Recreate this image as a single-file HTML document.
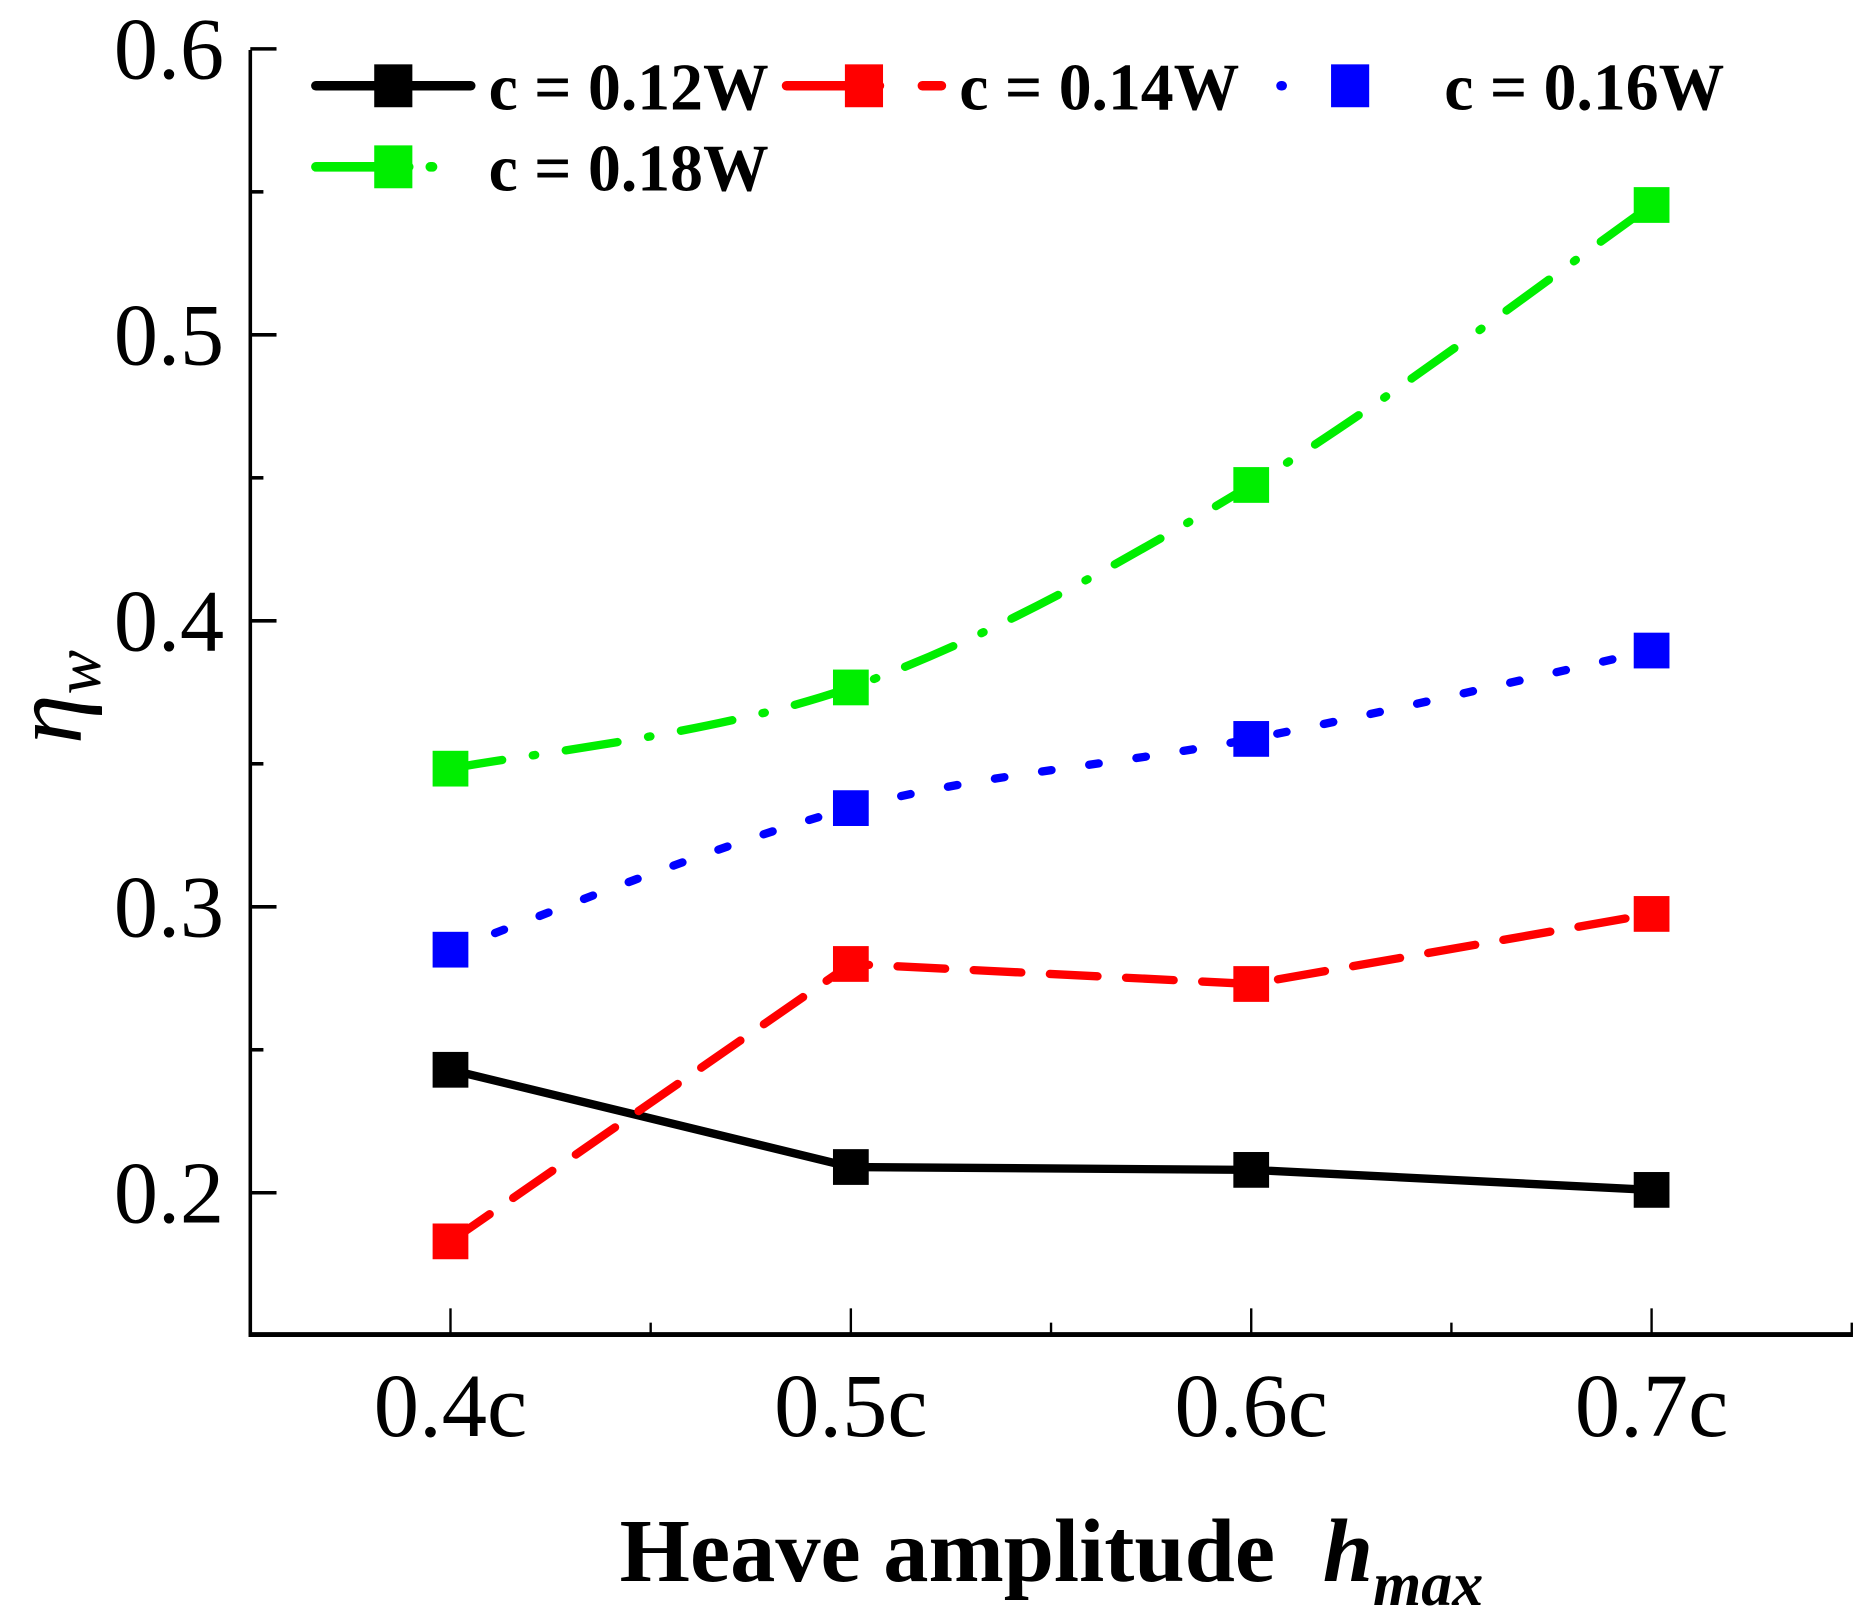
<!DOCTYPE html>
<html><head><meta charset="utf-8"><style>
html,body{margin:0;padding:0;background:#fff;}
svg{display:block;}
text{font-family:"Liberation Serif",serif;}
</style></head><body>
<svg id="chart" width="1859" height="1611" viewBox="0 0 1560 1352" xmlns="http://www.w3.org/2000/svg">
<g id="axes"></g>
<g id="series"></g>
<g id="legend"></g>
<text x="520" y="1327" font-size="76" font-weight="bold" textLength="550" lengthAdjust="spacingAndGlyphs">Heave amplitude</text>
<text x="1110" y="1327" font-size="76" font-weight="bold" font-style="italic">h<tspan font-size="52" dy="20">max</tspan></text>
<text transform="translate(68,585) rotate(-90)" font-size="84" font-style="italic" text-anchor="middle">η<tspan font-size="56" dy="16">w</tspan></text>
</svg>
<script>
const categories = ["0.4c","0.5c","0.6c","0.7c"];
const xValues = [0.4,0.5,0.6,0.7];
const yTicks = [0.2,0.3,0.4,0.5,0.6];
const yTickLabels = ["0.2","0.3","0.4","0.5","0.6"];
const s012 = [0.243,0.209,0.208,0.201];
const s014 = [0.183,0.280,0.273,0.2975];
const s016 = [0.285,0.3345,0.3587,0.3896];
const s018 = [0.3483,0.3767,0.4475,0.5454];
const seriesNames = ["c = 0.12W","c = 0.14W","c = 0.16W","c = 0.18W"];

const NS="http://www.w3.org/2000/svg";
const L=210,R=1555,T=42,B=1120;
function xs(v){return 378+(v-0.4)*3360;}
function ys(v){return 1001-(v-0.2)*2400;}
function mk(tag,attrs,parent){const e=document.createElementNS(NS,tag);for(const k in attrs)e.setAttribute(k,attrs[k]);parent.appendChild(e);return e;}
const axes=document.getElementById('axes');
let e;
e=mk('line',{x1:L,y1:T,x2:L,y2:B,stroke:'#000','stroke-width':3},axes);


e=mk('line',{x1:L-1.5,y1:B,x2:R,y2:B,stroke:'#000','stroke-width':4},axes);


yTicks.forEach((v,i)=>{
  const t=mk('line',{x1:L,y1:ys(v),x2:L+22,y2:ys(v),stroke:'#000','stroke-width':3},axes);
  
  
  const tx=mk('text',{x:188,y:ys(v)+25,'font-size':74,'text-anchor':'end'},axes);
  tx.textContent=yTickLabels[i];
  
  
});
for(let v=0.25;v<0.6;v+=0.1){
  const t=mk('line',{x1:L,y1:ys(v),x2:L+11,y2:ys(v),stroke:'#000','stroke-width':3},axes);
  
  
}
xValues.forEach((v,i)=>{
  const t=mk('line',{x1:xs(v),y1:B,x2:xs(v),y2:B-22,stroke:'#000','stroke-width':2},axes);
  
  
  const tx=mk('text',{x:xs(v),y:1205,'font-size':76,'text-anchor':'middle'},axes);
  tx.textContent=categories[i];
  
  
});
[0.45,0.55,0.65,0.75].forEach(v=>{
  const t=mk('line',{x1:xs(v),y1:B,x2:xs(v),y2:B-10,stroke:'#000','stroke-width':2},axes);
  
  
});

function smoothPath(pts){
  let d='M'+pts[0][0]+','+pts[0][1];
  for(let i=0;i<pts.length-1;i++){
    const p0=pts[Math.max(0,i-1)],p1=pts[i],p2=pts[i+1],p3=pts[Math.min(pts.length-1,i+2)];
    const c1=[p1[0]+(p2[0]-p0[0])/6,p1[1]+(p2[1]-p0[1])/6];
    const c2=[p2[0]-(p3[0]-p1[0])/6,p2[1]-(p3[1]-p1[1])/6];
    d+=' C'+c1+' '+c2+' '+p2;
  }
  return d;
}
const cfg=[
 {data:s012,color:'#000',dash:'',cap:'butt',smooth:false,name:'series-c012'},
 {data:s014,color:'#ff0000',dash:'40 24',cap:'round',smooth:false,name:'series-c014'},
 {data:s016,color:'#0000ff',dash:'8 32',cap:'round',smooth:true,name:'series-c016'},
 {data:s018,color:'#00ee00',dash:'44 26 2 26',cap:'round',smooth:true,name:'series-c018'}
];
const sg=document.getElementById('series');
cfg.forEach(c=>{
  const pts=c.data.map((v,i)=>[xs(xValues[i]),ys(v)]);
  const d=c.smooth?smoothPath(pts):'M'+pts.map(p=>p.join(',')).join(' L');
  const p=mk('path',{d:d,fill:'none',stroke:c.color,'stroke-width':7,'stroke-dasharray':c.dash,'stroke-linecap':c.cap},sg);
  
  
  pts.forEach(pt=>{
    const r=mk('rect',{x:pt[0]-15,y:pt[1]-15,width:30,height:30,fill:c.color},sg);
    
    
  });
});

const lg=document.getElementById('legend');
const legendItems=[
 {x1:265,x2:395,mx:330,y:72,tx:410,c:0,dash:''},
 {x1:660,x2:790,mx:725,y:72,tx:805,c:1,dash:'78 36'},
 {x1:1075,x2:1190,mx:1133,y:72,tx:1212,c:2,dash:'1 200'},
 {x1:265,x2:365,mx:330,y:140,tx:410,c:3,dash:'78 18 2 200'}
];
legendItems.forEach((it,i)=>{
  const c=cfg[it.c];
  const l=mk('line',{x1:it.x1,y1:it.y,x2:it.x2,y2:it.y,stroke:c.color,'stroke-width':8,'stroke-dasharray':it.dash,'stroke-linecap':'round'},lg);
  
  
  const r=mk('rect',{x:it.mx-16,y:it.y-18,width:32,height:36,fill:c.color},lg);
  
  
  const t=mk('text',{x:it.tx,y:it.y+20,'font-size':56,'font-weight':'bold',textLength:235,lengthAdjust:'spacingAndGlyphs'},lg);
  t.textContent=seriesNames[i];
  
  
});
</script>
</body></html>
